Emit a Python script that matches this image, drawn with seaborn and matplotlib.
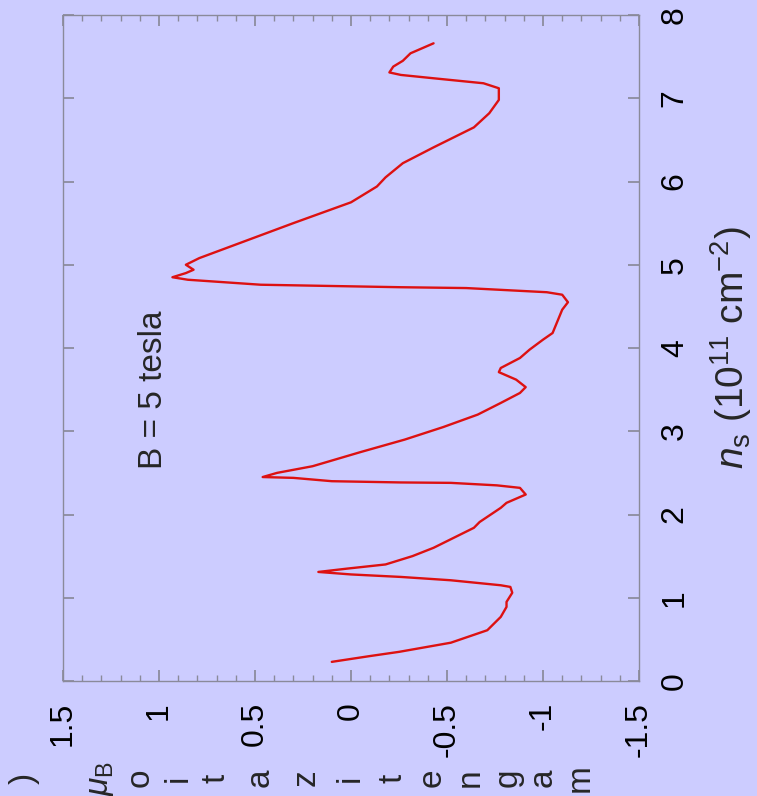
import numpy as np
import matplotlib
matplotlib.use("Agg")
import matplotlib.pyplot as plt
from matplotlib.ticker import MultipleLocator
import seaborn as sns

# magnetization vs sheet density, B = 5 tesla
ns = [0.23, 0.30, 0.35, 0.46, 0.61, 0.77, 0.89, 0.95, 1.06, 1.13, 1.15, 1.21,
      1.25, 1.28, 1.31, 1.35, 1.40, 1.50, 1.60, 1.84, 1.91, 2.08, 2.14, 2.24, 2.32,
      2.35, 2.38, 2.385, 2.40, 2.44, 2.45, 2.50, 2.58, 2.75, 2.90, 3.05, 3.20,
      3.34, 3.46, 3.53, 3.62, 3.71, 3.76, 3.88, 3.98, 4.10, 4.18, 4.46, 4.55,
      4.64, 4.67, 4.72, 4.73, 4.76, 4.82, 4.85, 4.90, 4.94, 5.00, 5.08, 5.50,
      5.75, 5.94, 6.05, 6.22, 6.41, 6.65, 6.82, 6.98, 7.12, 7.18, 7.24, 7.28,
      7.31, 7.38, 7.45, 7.54, 7.66]
mag = [0.10, -0.10, -0.25, -0.52, -0.71, -0.78, -0.81, -0.81, -0.84, -0.83, -0.78, -0.52,
       -0.26, 0.00, 0.17, 0.02, -0.18, -0.32, -0.43, -0.64, -0.67, -0.78, -0.81, -0.91, -0.88,
       -0.76, -0.52, -0.26, 0.10, 0.30, 0.46, 0.385, 0.20, -0.05, -0.28, -0.48, -0.66,
       -0.78, -0.88, -0.91, -0.86, -0.77, -0.78, -0.88, -0.93, -1.00, -1.05, -1.10, -1.13,
       -1.10, -1.02, -0.60, -0.26, 0.47, 0.85, 0.93, 0.86, 0.82, 0.86, 0.79, 0.30,
       0.00, -0.135, -0.18, -0.27, -0.43, -0.64, -0.72, -0.77, -0.77, -0.69, -0.43, -0.26,
       -0.20, -0.22, -0.27, -0.31, -0.43]

mag_ticks = [1.5, 1, 0.5, 0, -0.5, -1, -1.5]
mag_ticklabels = ["1.5", "1", "0.5", "0", "-0.5", "-1", "-1.5"]
ns_ticks = [0, 1, 2, 3, 4, 5, 6, 7, 8]

# letters of the magnetization label, right to left
label_chars = ["m", "a", "g", "n", "e", "t", "i", "z", "a", "t", "i", "o", r"$\mu_{\rm B}$", ")"]
label_px = [580, 543, 508, 470, 432, 393, 350, 306, 260, 216, 178, 140, 100, 24]

bg = "#ccccff"
sns.set_theme(style="ticks", rc={"axes.facecolor": bg, "figure.facecolor": bg,
                                 "axes.edgecolor": "#8a8a9a"})
plt.rcParams["font.family"] = ["Liberation Sans", "DejaVu Sans"]
plt.rcParams["mathtext.fontset"] = "custom"
plt.rcParams["mathtext.rm"] = "Liberation Sans"
plt.rcParams["mathtext.it"] = "Liberation Sans:italic"

W, H = 757, 796
fig = plt.figure(figsize=(W / 100, H / 100), dpi=100)
ax = fig.add_axes([63 / W, 1 - 681 / H, (639 - 63) / W, (681 - 15) / H])

sns.lineplot(x=mag, y=ns, sort=False, estimator=None, color="#dd1111",
             linewidth=1.7, ax=ax)

ax.set_xlim(1.5, -1.5)
ax.set_ylim(0, 8)
ax.set_xticks(mag_ticks)
ax.set_xticklabels(mag_ticklabels)
ax.xaxis.set_minor_locator(MultipleLocator(0.1))
ax.set_yticks(ns_ticks)
ax.set_xlabel("")

for s in ax.spines.values():
    s.set_linewidth(1.0)

ax.tick_params(axis="x", which="both", direction="in", top=True, bottom=True,
               colors="#8a8a9a", labelcolor="black", labelsize=23, pad=15,
               labelrotation=90)
ax.tick_params(axis="x", which="major", length=8)
ax.tick_params(axis="x", which="minor", length=4)
ax.tick_params(axis="y", which="major", direction="in", left=True, right=True,
               labelleft=False, labelright=True, length=8, colors="#8a8a9a",
               labelcolor="black", labelsize=23, pad=15, labelrotation=90)
for t in ax.get_yticklabels():
    t.set_verticalalignment("center")

ax.yaxis.set_label_position("right")
ax.set_ylabel(r"$n_{\rm s}$ (10$^{11}$ cm$^{-2}$)", fontsize=28, labelpad=13)

ax.text(1.03, 3.5, "B = 5 tesla", rotation=90, ha="center", va="center",
        fontsize=24)

for ch, px in zip(label_chars, label_px):
    fig.text(px / W, 1 - 778 / H, ch, rotation=90, ha="center", va="center",
             fontsize=24)

fig.savefig("out.png", dpi=100, facecolor=bg)
